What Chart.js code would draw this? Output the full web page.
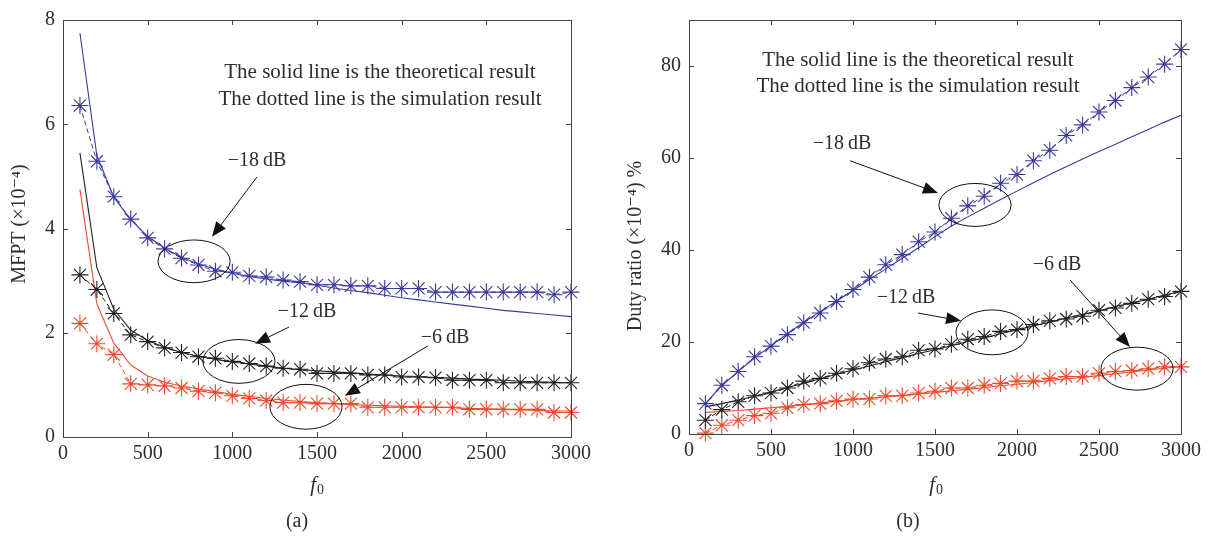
<!DOCTYPE html>
<html>
<head>
<meta charset="utf-8">
<script src="https://cdn.jsdelivr.net/npm/chart.js@4.4.1/dist/chart.umd.min.js"></script>
<style>
  body { margin: 0; background: #fff; }
  #wrap { position: relative; width: 1208px; height: 540px; }
  #left { position: absolute; left: 0; top: 0; }
  #right { position: absolute; left: 600px; top: 0; }
</style>
</head>
<body>
<div id="wrap">
  <canvas id="left" width="600" height="540"></canvas>
  <canvas id="right" width="608" height="540"></canvas>
</div>
<script>
// f0 values (same for every series)
const f0 = [100, 200, 300, 400, 500, 600, 700, 800, 900, 1000,
            1100, 1200, 1300, 1400, 1500, 1600, 1700, 1800, 1900, 2000,
            2100, 2200, 2300, 2400, 2500, 2600, 2700, 2800, 2900, 3000];

// (a) MFPT (x10^-4)
const mfptTheory18 = [7.75, 5.40, 4.60, 4.17, 3.85, 3.62, 3.45, 3.32, 3.22, 3.14, 3.08, 3.03, 2.99, 2.96, 2.91, 2.86, 2.81, 2.77, 2.72, 2.67, 2.63, 2.59, 2.55, 2.51, 2.47, 2.43, 2.40, 2.37, 2.34, 2.31];
const mfptSim18    = [6.36, 5.29, 4.61, 4.18, 3.82, 3.61, 3.43, 3.30, 3.18, 3.16, 3.09, 3.07, 3.01, 2.98, 2.92, 2.92, 2.90, 2.90, 2.85, 2.85, 2.85, 2.78, 2.78, 2.78, 2.78, 2.78, 2.78, 2.78, 2.73, 2.78];
const mfptTheory12 = [5.45, 3.25, 2.45, 2.05, 1.85, 1.72, 1.62, 1.55, 1.49, 1.44, 1.40, 1.36, 1.32, 1.29, 1.27, 1.25, 1.23, 1.21, 1.19, 1.17, 1.16, 1.14, 1.13, 1.11, 1.10, 1.09, 1.07, 1.06, 1.05, 1.04];
const mfptSim12    = [3.11, 2.83, 2.37, 1.96, 1.83, 1.71, 1.62, 1.54, 1.51, 1.45, 1.41, 1.36, 1.32, 1.30, 1.22, 1.22, 1.22, 1.19, 1.19, 1.15, 1.15, 1.14, 1.09, 1.09, 1.09, 1.04, 1.04, 1.04, 1.04, 1.04];
const mfptTheory6  = [4.75, 2.55, 1.80, 1.38, 1.17, 1.05, 0.98, 0.92, 0.87, 0.82, 0.78, 0.74, 0.71, 0.68, 0.66, 0.64, 0.62, 0.61, 0.60, 0.59, 0.58, 0.57, 0.56, 0.55, 0.54, 0.53, 0.52, 0.51, 0.50, 0.50];
const mfptSim6     = [2.18, 1.79, 1.58, 1.02, 1.00, 0.98, 0.94, 0.88, 0.85, 0.79, 0.74, 0.70, 0.66, 0.66, 0.64, 0.64, 0.64, 0.57, 0.57, 0.57, 0.57, 0.57, 0.57, 0.53, 0.53, 0.53, 0.53, 0.53, 0.47, 0.47];

// (b) Duty ratio (x10^-4) %
const dutyTheory18 = [6.6, 10.5, 13.6, 16.5, 19.2, 21.8, 24.3, 26.6, 28.9, 31.2, 33.6, 35.9, 38.2, 40.5, 42.9, 45.2, 47.2, 49.1, 51.0, 52.8, 54.6, 56.4, 58.1, 59.8, 61.4, 63.0, 64.6, 66.2, 67.8, 69.3];
const dutySim18    = [6.6, 10.6, 13.6, 16.8, 19.1, 21.6, 24.2, 26.3, 28.8, 31.4, 34.1, 36.8, 39.0, 41.8, 43.9, 46.9, 49.6, 51.7, 54.5, 56.4, 59.4, 61.7, 64.9, 67.2, 70.0, 72.5, 75.3, 77.6, 80.4, 83.6];
const dutyTheory12 = [5.9, 6.6, 7.4, 8.2, 9.1, 10.1, 11.0, 12.0, 13.0, 13.9, 14.8, 15.7, 16.6, 17.5, 18.3, 19.2, 20.1, 20.9, 21.8, 22.6, 23.5, 24.3, 25.2, 26.0, 26.8, 27.7, 28.5, 29.3, 30.2, 31.0];
const dutySim12    = [3.0, 5.3, 7.0, 8.3, 8.9, 10.0, 11.5, 12.1, 13.2, 14.2, 15.5, 16.3, 16.8, 18.2, 18.5, 19.5, 20.6, 21.2, 22.3, 22.7, 23.8, 24.6, 25.0, 25.6, 26.9, 27.4, 28.4, 29.3, 29.9, 31.0];
const dutyTheory6  = [4.7, 4.9, 5.1, 5.4, 5.7, 6.0, 6.4, 6.8, 7.1, 7.5, 7.8, 8.1, 8.4, 8.7, 9.0, 9.4, 9.7, 10.1, 10.5, 10.8, 11.2, 11.6, 12.0, 12.3, 12.7, 13.1, 13.5, 13.9, 14.3, 14.7];
const dutySim6     = [0.2, 1.9, 3.0, 4.0, 4.5, 5.7, 6.4, 6.6, 7.2, 7.6, 7.6, 8.3, 8.3, 8.9, 9.3, 10.0, 10.0, 10.6, 11.0, 11.5, 11.5, 12.1, 12.5, 12.5, 13.2, 13.6, 13.8, 14.2, 14.6, 14.6];

// tick labels
const xTicks = [0, 500, 1000, 1500, 2000, 2500, 3000];
const mfptTicks = [0, 2, 4, 6, 8];
const dutyTicks = [0, 20, 40, 60, 80];

const BLUE = '#3b3a9c';
const BLACK = '#222222';
const RED = '#f04a2c';
const TEXT = '#2e2e2e';
const SERIF = '"Liberation Serif", "DejaVu Serif", serif';
const FS = 20;

function pts(ys) {
  return f0.map((x, i) => ({ x: x, y: ys[i] }));
}

function theory(ys, color) {
  return { data: pts(ys), borderColor: color, borderWidth: 1.1, pointRadius: 0, fill: false, clip: false };
}

function sim(ys, color) {
  return {
    data: pts(ys), borderColor: color, borderWidth: 1, borderDash: [5, 3],
    pointStyle: 'star', pointRadius: 8.5, pointBorderColor: color, pointBorderWidth: 1.1,
    fill: false, clip: false
  };
}

function arrow(ctx, x1, y1, x2, y2) {
  const a = Math.atan2(y2 - y1, x2 - x1);
  const len = 15, half = 6;
  const bx = x2 - len * Math.cos(a), by = y2 - len * Math.sin(a);
  ctx.beginPath();
  ctx.moveTo(x1, y1);
  ctx.lineTo(bx, by);
  ctx.stroke();
  ctx.beginPath();
  ctx.moveTo(x2, y2);
  ctx.lineTo(bx + half * Math.sin(a), by - half * Math.cos(a));
  ctx.lineTo(bx - half * Math.sin(a), by + half * Math.cos(a));
  ctx.closePath();
  ctx.fill();
}

// frame, inward ticks, notes
const decor = {
  id: 'decor',
  afterDraw(chart) {
    const ctx = chart.ctx;
    const a = chart.chartArea;
    const xs = chart.scales.x, ys = chart.scales.y;
    const o = chart.options.plugins.decor;
    ctx.save();
    ctx.strokeStyle = '#444';
    ctx.lineWidth = 1;
    ctx.strokeRect(a.left + 0.5, a.top + 0.5, a.right - a.left, a.bottom - a.top);
    ctx.beginPath();
    o.xTicks.forEach(v => {
      const p = Math.round(xs.getPixelForValue(v)) + 0.5;
      ctx.moveTo(p, a.bottom); ctx.lineTo(p, a.bottom - 5);
      ctx.moveTo(p, a.top); ctx.lineTo(p, a.top + 5);
    });
    o.yTicks.forEach(v => {
      const p = Math.round(ys.getPixelForValue(v)) + 0.5;
      ctx.moveTo(a.left, p); ctx.lineTo(a.left + 5, p);
      ctx.moveTo(a.right, p); ctx.lineTo(a.right - 5, p);
    });
    ctx.stroke();

    ctx.fillStyle = TEXT;
    ctx.textAlign = 'center';
    ctx.textBaseline = 'middle';
    ctx.font = '21px ' + SERIF;
    o.note.lines.forEach((t, i) => {
      ctx.fillText(t, xs.getPixelForValue(o.note.x), ys.getPixelForValue(o.note.y[i]));
    });

    ctx.strokeStyle = '#111';
    o.marks.forEach(m => {
      ctx.fillStyle = TEXT;
      ctx.font = FS + 'px ' + SERIF;
      ctx.fillText(m.label, xs.getPixelForValue(m.lx), ys.getPixelForValue(m.ly));
      ctx.fillStyle = '#111';
      arrow(ctx, xs.getPixelForValue(m.ax1), ys.getPixelForValue(m.ay1),
                 xs.getPixelForValue(m.ax2), ys.getPixelForValue(m.ay2));
      const cx = xs.getPixelForValue(m.ex), cy = ys.getPixelForValue(m.ey);
      const rx = Math.abs(xs.getPixelForValue(m.ex + m.erx) - cx);
      const ry = Math.abs(ys.getPixelForValue(m.ey + m.ery) - cy);
      ctx.beginPath();
      ctx.ellipse(cx, cy, rx, ry, 0, 0, Math.PI * 2);
      ctx.stroke();
    });

    // axis titles
    ctx.fillStyle = TEXT;
    ctx.font = FS + 'px ' + SERIF;
    ctx.save();
    ctx.translate(o.yTitle.x, o.yTitle.y);
    ctx.rotate(-Math.PI / 2);
    ctx.fillText(o.yTitle.text, 0, 0);
    ctx.restore();

    ctx.font = 'italic 21px ' + SERIF;
    ctx.textAlign = 'right';
    ctx.fillText('f', o.xTitle.x, o.xTitle.y);
    ctx.font = '14px ' + SERIF;
    ctx.textAlign = 'left';
    ctx.fillText('0', o.xTitle.x + 1, o.xTitle.y + 5);

    ctx.font = FS + 'px ' + SERIF;
    ctx.textAlign = 'center';
    ctx.fillText(o.panel.text, o.panel.x, o.panel.y);
    ctx.restore();
  }
};

function makeChart(id, sets, yMax, yStep, yTickList, yWidth, xHeight, pad, decorOpts) {
  return new Chart(document.getElementById(id), {
    type: 'line',
    data: { datasets: sets },
    options: {
      responsive: false,
      animation: false,
      layout: { padding: pad },
      plugins: { legend: { display: false }, tooltip: { enabled: false }, decor: decorOpts },
      scales: {
        x: {
          type: 'linear', min: 0, max: 3000,
          ticks: { stepSize: 500, color: TEXT, font: { family: SERIF, size: FS }, padding: 5, maxRotation: 0,
                   callback: v => String(v) },
          grid: { display: false, drawTicks: false },
          border: { display: false },
          afterFit: s => { s.height = xHeight; }
        },
        y: {
          min: 0, max: yMax,
          afterBuildTicks: s => { s.ticks = yTickList.map(v => ({ value: v })); },
          ticks: { stepSize: yStep, color: TEXT, font: { family: SERIF, size: FS }, padding: 8,
                   callback: v => String(v) },
          grid: { display: false, drawTicks: false },
          border: { display: false },
          afterFit: s => { s.width = yWidth; }
        }
      }
    },
    plugins: [decor]
  });
}

makeChart('left', [
  theory(mfptTheory18, BLUE), sim(mfptSim18, BLUE),
  theory(mfptTheory12, BLACK), sim(mfptSim12, BLACK),
  theory(mfptTheory6, RED), sim(mfptSim6, RED)
], 8, 2, mfptTicks, 63, 103, { top: 12, right: 29, left: 0, bottom: 0 }, {
  xTicks: xTicks, yTicks: mfptTicks,
  note: { x: 1872, y: [7.0, 6.47], lines: ['The solid line is the theoretical result', 'The dotted line is the simulation result'] },
  marks: [
    { label: '\u221218\u2009dB', lx: 1146, ly: 5.3, ax1: 1146, ay1: 4.99, ax2: 880, ay2: 3.84, ex: 774, ey: 3.37, erx: 213, ery: 0.41 },
    { label: '\u221212\u2009dB', lx: 1441, ly: 2.4, ax1: 1335, ay1: 2.11, ax2: 1134, ay2: 1.79, ex: 1039, ey: 1.45, erx: 213, ery: 0.42 },
    { label: '\u22126\u2009dB', lx: 2256, ly: 1.91, ax1: 2156, ay1: 1.75, ax2: 1665, ay2: 0.79, ex: 1435, ey: 0.58, erx: 213, ery: 0.43 }
  ],
  yTitle: { text: 'MFPT (\u00d710\u207b\u2074)', x: 20, y: 224 },
  xTitle: { x: 316, y: 485 },
  panel: { text: '(a)', x: 297, y: 522 }
});

makeChart('right', [
  theory(dutyTheory18, BLUE), sim(dutySim18, BLUE),
  theory(dutyTheory12, BLACK), sim(dutySim12, BLACK),
  theory(dutyTheory6, RED), sim(dutySim6, RED)
], 90, 20, dutyTicks, 89, 106, { top: 9, right: 27, left: 0, bottom: 0 }, {
  xTicks: xTicks, yTicks: dutyTicks,
  note: { x: 1396, y: [81.2, 75.5], lines: ['The solid line is the theoretical result', 'The dotted line is the simulation result'] },
  marks: [
    { label: '\u221218\u2009dB', lx: 933, ly: 63.0, ax1: 982, ay1: 59.4, ax2: 1518, ay2: 52.4, ex: 1744, ey: 49.8, erx: 220, ery: 4.67 },
    { label: '\u221212\u2009dB', lx: 1323, ly: 29.7, ax1: 1396, ay1: 26.3, ax2: 1659, ay2: 24.6, ex: 1848, ey: 22.1, erx: 220, ery: 4.88 },
    { label: '\u22126\u2009dB', lx: 2244, ly: 36.9, ax1: 2323, ay1: 33.5, ax2: 2689, ay2: 18.9, ex: 2732, ey: 14.2, erx: 220, ery: 4.67 }
  ],
  yTitle: { text: 'Duty ratio (\u00d710\u207b\u2074) %', x: 36, y: 246 },
  xTitle: { x: 335, y: 485 },
  panel: { text: '(b)', x: 308, y: 522 }
});
</script>
</body>
</html>
